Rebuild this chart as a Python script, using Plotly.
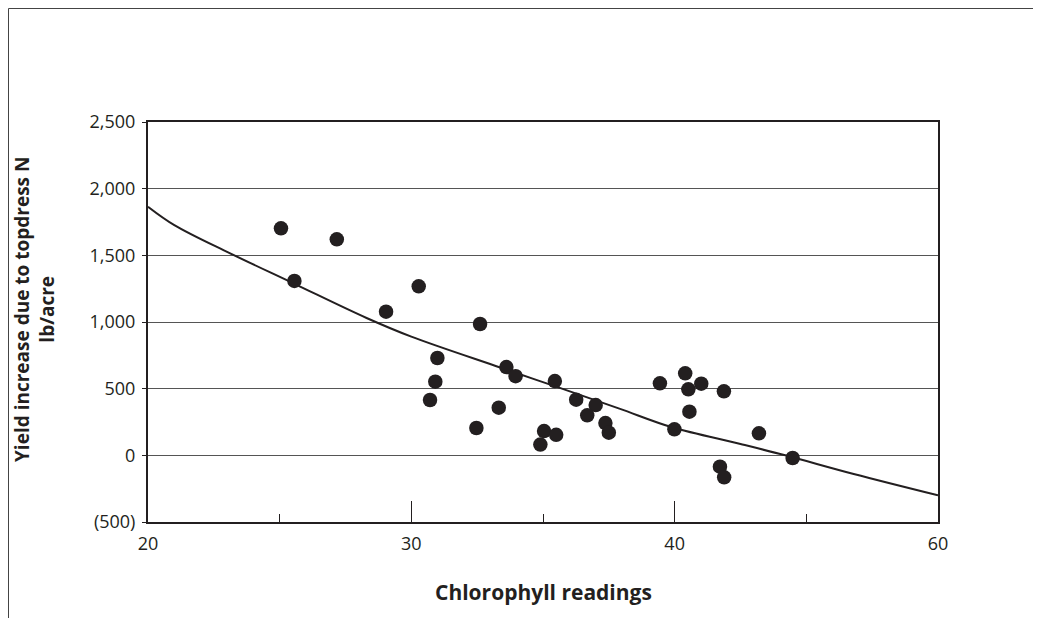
import plotly.graph_objects as go

# Scatter data: chlorophyll reading vs. yield increase (lb/acre)
chlorophyll = [25.05, 27.17, 25.56, 30.28, 29.04, 32.61, 30.99, 30.91, 30.71,
               33.61, 33.96, 33.32, 32.47, 35.45, 35.04, 35.50, 34.90, 36.26,
               37.00, 36.68, 37.37, 37.50, 39.44, 40.40, 40.52, 41.01, 41.87,
               40.56, 39.99, 43.20, 44.48, 41.72, 41.88]
yield_increase = [1703, 1620, 1308, 1268, 1077, 985, 730, 552, 415,
                  662, 594, 357, 205, 557, 182, 154, 81, 417,
                  377, 300, 242, 170, 540, 615, 495, 537, 480,
                  327, 195, 165, -20, -85, -165]

# Trend curve
trend_x = [20.0, 21.0, 23.1, 25.5, 28.3, 30.0, 33.4, 35.5, 37.9, 39.9, 42.5, 44.2, 46.8, 50.0]
trend_y = [1865, 1727, 1517, 1292, 1030, 890, 657, 515, 350, 210, 85, 0, -140, -300]

# Axis ticks
x_tickvals = [20, 30, 40, 50]
x_ticktext = ["20", "30", "40", "60"]
x_minor_ticks = [25, 35, 45]
y_tickvals = [-500, 0, 500, 1000, 1500, 2000, 2500]
y_ticktext = ["(500)", "0", "500", "1,000", "1,500", "2,000", "2,500"]

INK = "#231f20"
FONT = "Open Sans"

fig = go.Figure()
fig.add_trace(go.Scatter(x=trend_x, y=trend_y, mode="lines",
                         line=dict(color=INK, width=2, shape="spline", smoothing=1.0),
                         hoverinfo="skip", showlegend=False))
fig.add_trace(go.Scatter(x=chlorophyll, y=yield_increase, mode="markers",
                         marker=dict(color=INK, size=14.5, line=dict(width=0)),
                         showlegend=False))

fig.update_layout(
    width=1033, height=610,
    margin=dict(l=140, r=103, t=114, b=96),
    paper_bgcolor="white", plot_bgcolor="white",
    font=dict(family=FONT, color=INK, size=18),
    showlegend=False,
    xaxis=dict(range=[20, 50], tickmode="array", tickvals=x_tickvals, ticktext=x_ticktext,
               ticks="inside", ticklen=21, tickwidth=1, tickcolor=INK,
               minor=dict(tickmode="array", tickvals=x_minor_ticks, ticks="inside",
                          ticklen=8, tickwidth=1, tickcolor=INK, showgrid=False),
               showgrid=False, zeroline=False, showline=True, linecolor=INK, linewidth=2,
               mirror=True, ticklabelstandoff=4,
               tickfont=dict(size=18, family=FONT, color=INK)),
    yaxis=dict(range=[-500, 2500], tickmode="array", tickvals=y_tickvals, ticktext=y_ticktext,
               ticks="outside", ticklen=4, tickwidth=1, tickcolor=INK,
               showgrid=True, gridcolor="#555555", gridwidth=1,
               zeroline=False, showline=True, linecolor=INK, linewidth=2, mirror=True,
               ticklabelstandoff=3,
               tickfont=dict(size=18, family=FONT, color=INK)),
    annotations=[
        dict(text="<b>Chlorophyll readings</b>", xref="paper", yref="paper", x=0.5, y=0,
             xanchor="center", yanchor="middle", yshift=-70, showarrow=False,
             font=dict(size=21, family=FONT, color=INK)),
        dict(text="<b>Yield increase due to topdress N<br>lb/acre</b>", xref="paper", yref="paper",
             x=0, y=0.5, xanchor="center", yanchor="middle", xshift=-114, yshift=12,
             textangle=-90, showarrow=False,
             font=dict(size=19, family=FONT, color=INK)),
    ],
    shapes=[
        dict(type="line", xref="paper", yref="paper", x0=-139.5/790, x1=1.2, y0=513.5/400, y1=513.5/400,
             line=dict(color="#444444", width=1)),
        dict(type="line", xref="paper", yref="paper", x0=-139.5/790, x1=-139.5/790, y0=513.5/400, y1=-0.3,
             line=dict(color="#444444", width=1)),
    ],
)

fig.write_html("out.html")
